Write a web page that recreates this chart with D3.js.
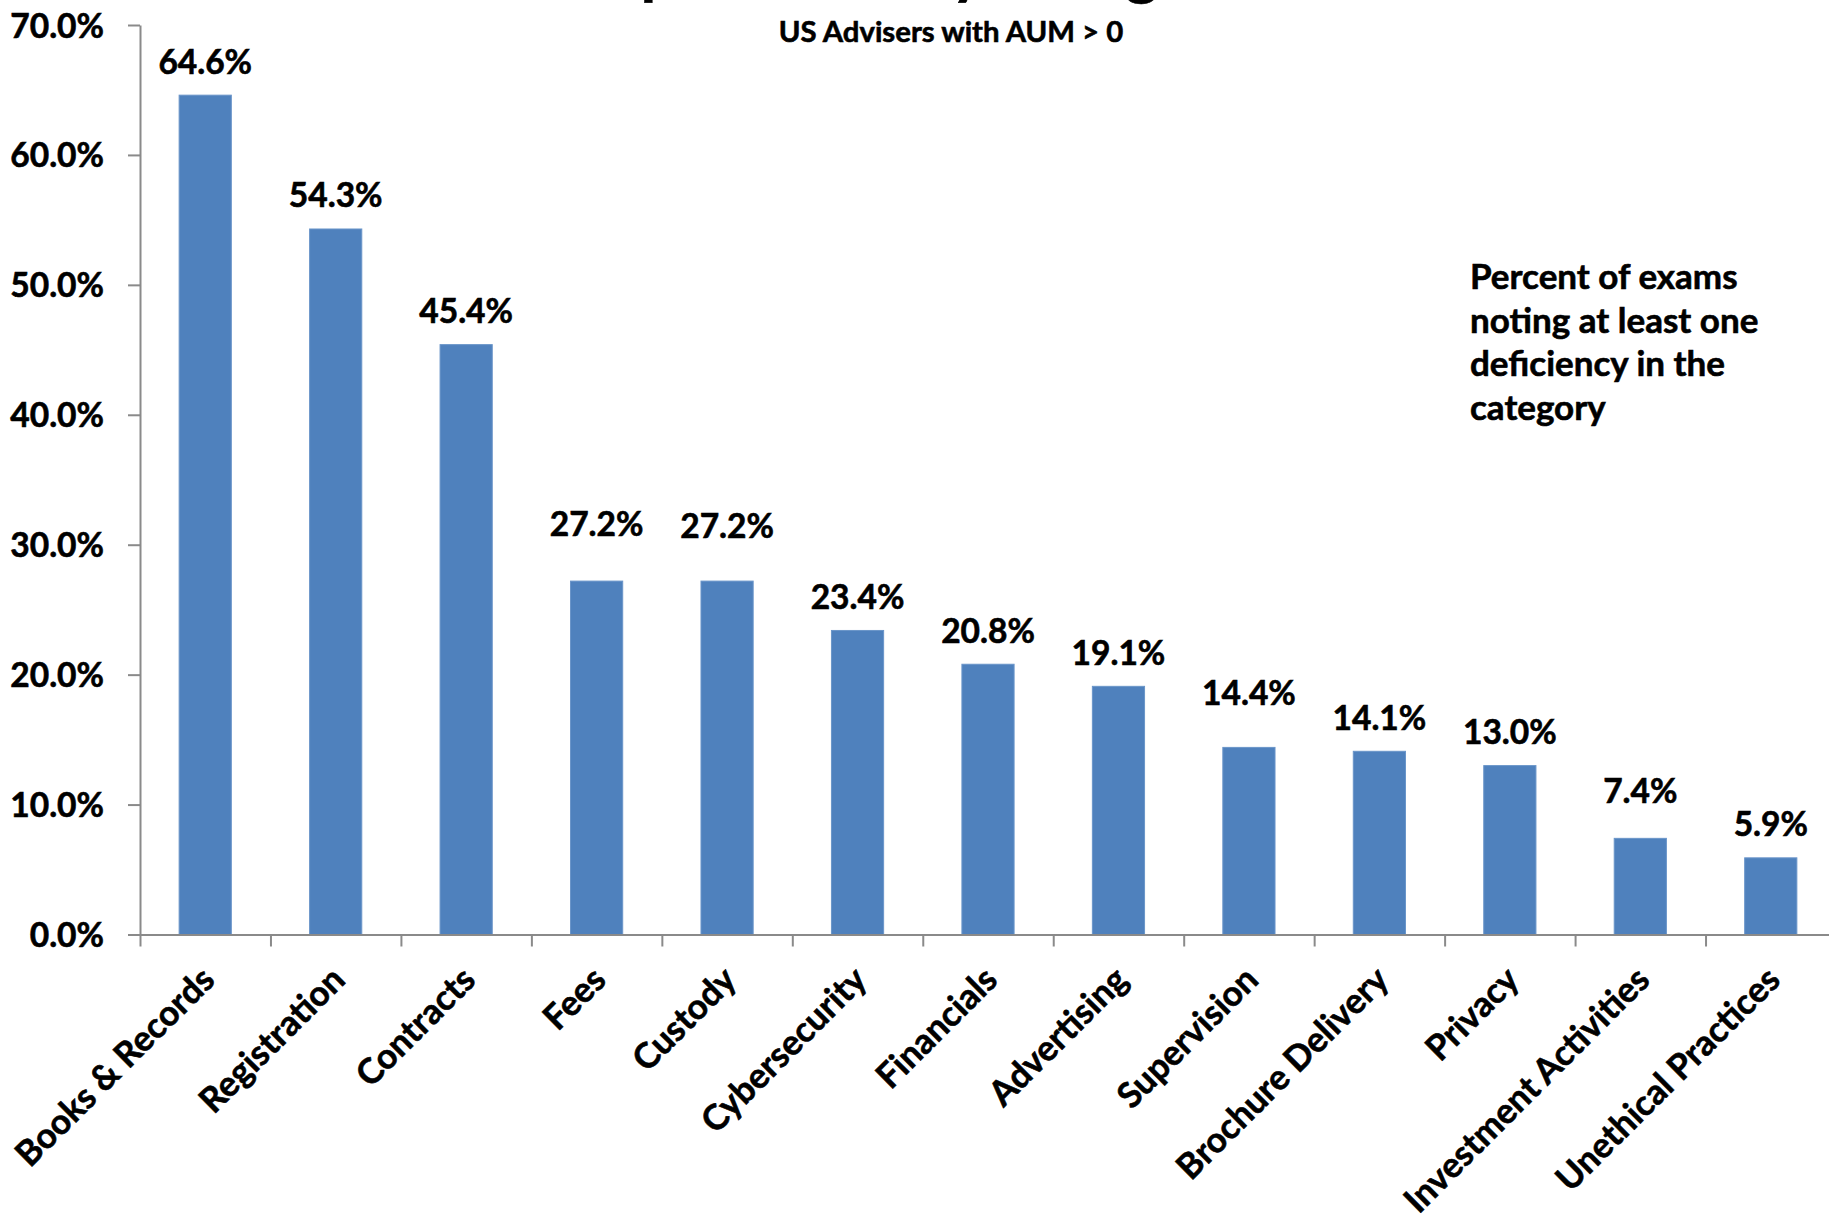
<!DOCTYPE html>
<html>
<head>
<meta charset="utf-8">
<script src="https://cdn.jsdelivr.net/npm/d3@7"></script>
<style>
  html, body { margin: 0; padding: 0; background: #fff; overflow: hidden; }
  svg { display: block; font-family: Lato, "Open Sans", sans-serif; font-weight: 700; }
  svg text { stroke: #000; stroke-width: 0.6px; }
</style>
</head>
<body>
<svg id="chart" width="1829" height="1214"></svg>
<script>
// ---- data ----
const categories = [
  "Books & Records", "Registration", "Contracts", "Fees", "Custody",
  "Cybersecurity", "Financials", "Advertising", "Supervision",
  "Brochure Delivery", "Privacy", "Investment Activities", "Unethical Practices"
];
const shares = [64.6, 54.3, 45.4, 27.2, 27.2, 23.4, 20.8, 19.1, 14.4, 14.1, 13.0, 7.4, 5.9];
const yTickValues = [0, 10, 20, 30, 40, 50, 60, 70];
const titleText = "Top Deficiency Categories";
const subtitleText = "US Advisers with AUM > 0";
const noteLines = ["Percent of exams", "noting at least one", "deficiency in the", "category"];

// ---- layout ----
const W = 1829, H = 1214;
const plot = { left: 140, right: 1836, top: 25, bottom: 934.5 };
const barColor = "#4f81bd";
const axisColor = "#8a8a8a";
// a few value labels sit higher so they clear their neighbours
const labelLift = [0, 0, 0, 24, 22, 0, 0, 0, 21, 0, 0, 14, 0];

const svg = d3.select("#chart");
svg.append("rect").attr("width", W).attr("height", H).attr("fill", "#fff");

const x = d3.scaleBand()
  .domain(categories)
  .range([plot.left, plot.right])
  .paddingInner(0.6)
  .paddingOuter(0.3);

const y = d3.scaleLinear()
  .domain([0, 70])
  .range([plot.bottom, plot.top]);

// category boundaries for the x tick marks
const xEdge = d3.scaleLinear()
  .domain([0, categories.length])
  .range([plot.left, plot.right]);

// title (runs off the top edge) and subtitle
svg.append("text")
  .attr("x", 934).attr("y", -7)
  .attr("text-anchor", "middle")
  .attr("font-size", 62)
  .text(titleText);

svg.append("text")
  .attr("x", 951).attr("y", 41.5)
  .attr("text-anchor", "middle")
  .attr("font-size", 29.3)
  .attr("fill", "#000")
  .text(subtitleText);

// bars
svg.append("g")
  .selectAll("rect")
  .data(shares)
  .join("rect")
  .attr("x", (d, i) => x(categories[i]))
  .attr("y", d => y(d))
  .attr("width", x.bandwidth())
  .attr("height", d => y(0) - y(d))
  .attr("fill", barColor)
  .attr("stroke", "#6a95c9")
  .attr("stroke-width", 1);

// value labels
svg.append("g")
  .selectAll("text")
  .data(shares)
  .join("text")
  .attr("x", (d, i) => x(categories[i]) + x.bandwidth() / 2)
  .attr("y", (d, i) => y(d) - 21.5 - labelLift[i])
  .attr("text-anchor", "middle")
  .attr("font-size", 33.5)
  .attr("fill", "#000")
  .text(d => d.toFixed(1) + "%");

// y axis
const yAxis = svg.append("g")
  .attr("transform", `translate(${plot.left},0)`)
  .call(d3.axisLeft(y)
    .tickValues(yTickValues)
    .tickSize(12)
    .tickSizeOuter(0)
    .tickPadding(24)
    .tickFormat(d => d.toFixed(1) + "%"));
yAxis.select(".domain").attr("stroke", axisColor).attr("stroke-width", 2);
yAxis.selectAll(".tick line").attr("stroke", axisColor).attr("stroke-width", 2);
yAxis.selectAll(".tick text")
  .attr("font-family", "Lato, 'Open Sans', sans-serif")
  .attr("font-weight", 700)
  .attr("font-size", 33.5)
  .attr("fill", "#000")
  .attr("dy", "0.36em");

// x axis: tick marks on the category boundaries
const xAxis = svg.append("g")
  .attr("transform", `translate(0,${plot.bottom})`)
  .call(d3.axisBottom(xEdge)
    .tickValues(d3.range(categories.length + 1))
    .tickSize(12)
    .tickSizeOuter(0)
    .tickFormat(""));
xAxis.select(".domain").attr("stroke", axisColor).attr("stroke-width", 2);
xAxis.selectAll(".tick line").attr("stroke", axisColor).attr("stroke-width", 2);

// rotated category labels
svg.append("g")
  .selectAll("text")
  .data(categories)
  .join("text")
  .attr("transform", d => `translate(${x(d) + x.bandwidth() / 2 - 6},${plot.bottom + 30}) rotate(-45)`)
  .attr("text-anchor", "end")
  .attr("dy", "0.7em")
  .attr("font-size", 35)
  .attr("fill", "#000")
  .text(d => d);

// note
svg.append("text")
  .attr("x", 1470)
  .attr("y", 289)
  .attr("font-size", 35)
  .attr("fill", "#000")
  .selectAll("tspan")
  .data(noteLines)
  .join("tspan")
  .attr("x", 1470)
  .attr("dy", (d, i) => i === 0 ? 0 : 43.7)
  .text(d => d);
</script>
</body>
</html>
